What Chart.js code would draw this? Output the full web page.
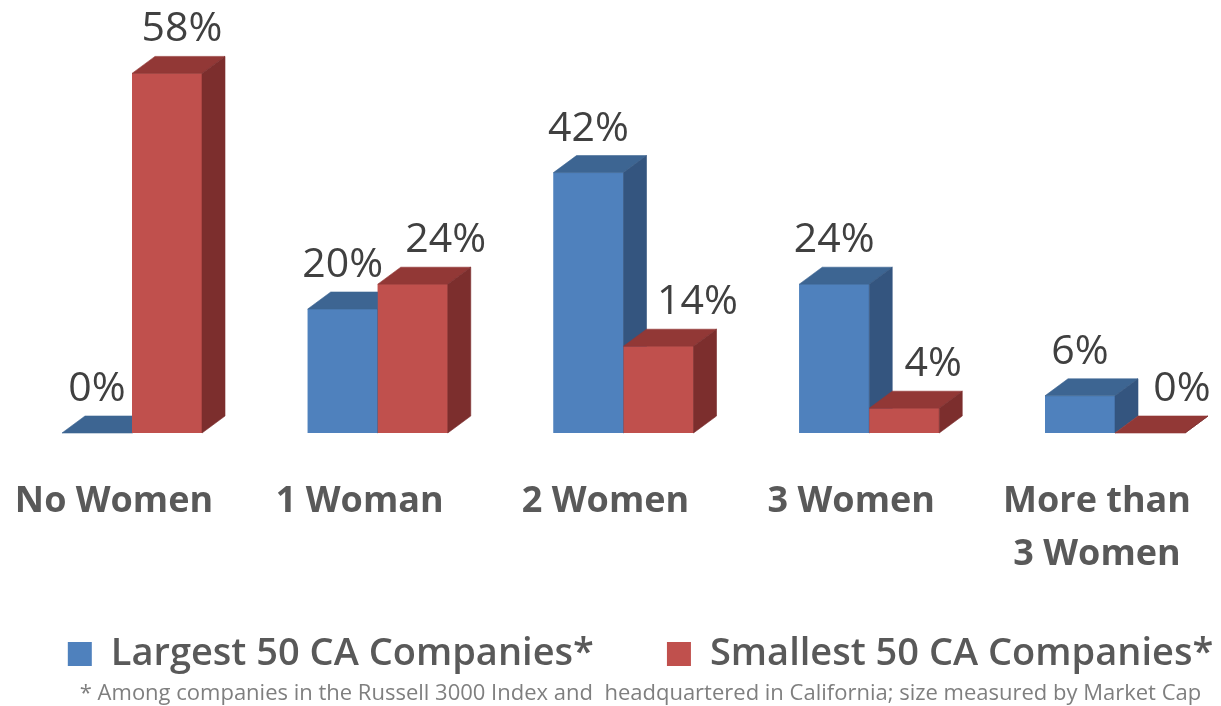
<!DOCTYPE html>
<html>
<head>
<meta charset="utf-8">
<script src="https://cdn.jsdelivr.net/npm/chart.js@4.4.0/dist/chart.umd.min.js"></script>
<style>
  html, body { margin: 0; padding: 0; background: #fff; }
  #wrap { width: 1221px; height: 706px; }
</style>
</head>
<body>
<div id="wrap"><canvas id="chart"></canvas></div>
<script>
const categories = ['No Women', '1 Woman', '2 Women', '3 Women', ['More than', '3 Women']];
const largest50 = [0, 20, 42, 24, 6];
const smallest50 = [58, 24, 14, 4, 0];
const seriesNames = ['Largest 50 CA Companies*', 'Smallest 50 CA Companies*'];
const footnote = '* Among companies in the Russell 3000 Index and  headquartered in California; size measured by Market Cap';

// fake 3D: top + side faces drawn off the bar elements, category by category
const bars3d = {
  id: 'bars3d',
  afterDatasetsDraw(chart, args, opts) {
    const ctx = chart.ctx;
    const metas = chart.data.datasets.map((d, i) => chart.getDatasetMeta(i));
    const face = (pts, color) => {
      ctx.fillStyle = color;
      ctx.strokeStyle = color;
      ctx.lineWidth = 0.6;
      ctx.beginPath();
      ctx.moveTo(pts[0][0], pts[0][1]);
      pts.slice(1).forEach(p => ctx.lineTo(p[0], p[1]));
      ctx.closePath();
      ctx.fill();
      ctx.stroke();
    };
    ctx.save();
    for (let i = 0; i < chart.data.labels.length; i++) {
      metas.forEach((meta, di) => {
        const ds = chart.data.datasets[di];
        const el = meta.data[i];
        const {x, y, base, width} = el.getProps(['x', 'y', 'base', 'width'], true);
        const l = x - width / 2, r = x + width / 2, top = Math.min(y, base);
        el.draw(ctx);
        face([[l, top], [l + opts.dx, top - opts.dy], [r + opts.dx, top - opts.dy], [r, top]], ds.topColor);
        face([[r, top], [r + opts.dx, top - opts.dy], [r + opts.dx, base - opts.dy], [r, base]], ds.sideColor);
      });
    }
    ctx.font = opts.labelFont;
    ctx.fillStyle = opts.labelColor;
    ctx.textAlign = 'center';
    ctx.textBaseline = 'alphabetic';
    metas.forEach((meta, di) => {
      const vals = chart.data.datasets[di].data;
      meta.data.forEach((el, i) => {
        ctx.fillText(vals[i] + '%', el.x + opts.labelShift[di][i], el.y - opts.labelGap);
      });
    });
    ctx.restore();
  }
};

new Chart(document.getElementById('chart'), {
  type: 'bar',
  data: {
    labels: categories,
    datasets: [
      {
        label: seriesNames[0],
        data: largest50,
        backgroundColor: '#4f81bd',
        topColor: '#3d6592',
        sideColor: '#34557f',
        borderWidth: 0,
        barPercentage: 1,
        categoryPercentage: 0.5697,
        clip: false
      },
      {
        label: seriesNames[1],
        data: smallest50,
        backgroundColor: '#c0504d',
        topColor: '#923836',
        sideColor: '#7c2e2d',
        borderWidth: 0,
        barPercentage: 1,
        categoryPercentage: 0.5697,
        clip: false
      }
    ]
  },
  plugins: [bars3d],
  options: {
    responsive: true,
    maintainAspectRatio: false,
    animation: false,
    events: [],
    layout: { padding: { left: 60, right: 0, top: 61, bottom: 0 } },
    scales: {
      x: {
        offset: false,
        grid: { display: false, drawTicks: false },
        border: { display: false },
        ticks: {
          color: '#595959',
          font: { family: 'Open Sans', weight: 'bold', size: 36, lineHeight: 1.4722 },
          padding: 42,
          labelOffset: -18,
          maxRotation: 0,
          autoSkip: false
        },
        afterFit(s) {
          s.height = 198;
          s.paddingLeft = 0;
          s.paddingRight = 0;
        }
      },
      y: {
        min: 0,
        max: 60,
        grid: { display: false },
        border: { display: false },
        ticks: { display: false },
        afterFit(s) { s.width = 72; }
      },
      y2: {
        position: 'right',
        grid: { display: false },
        border: { display: false },
        ticks: { display: false },
        afterFit(s) { s.width = 106; }
      }
    },
    plugins: {
      bars3d: {
        dx: 23,
        dy: 17,
        labelFont: '500 41px "Open Sans"',
        labelColor: '#404040',
        labelGap: 32,
        labelShift: [[0, 0, 0, 0, 0], [15, 33, 39, 29, 32]]
      },
      legend: {
        position: 'bottom',
        labels: {
          color: '#595959',
          font: { family: 'Open Sans', weight: '600', size: 38 },
          boxWidth: 24,
          boxHeight: 24,
          padding: 4,
          generateLabels: (chart) => chart.data.datasets.map((ds, i) => ({
            text: i === 0 ? ds.label + '       ' : ds.label,
            fillStyle: ds.backgroundColor,
            strokeStyle: ds.backgroundColor,
            lineWidth: 0,
            fontColor: '#595959',
            hidden: false,
            datasetIndex: i
          }))
        }
      },
      title: {
        display: true,
        position: 'bottom',
        text: footnote,
        color: '#7f7f7f',
        font: { family: 'Open Sans', weight: 'normal', size: 22, lineHeight: 1.0 },
        padding: { top: 0, bottom: 1 }
      },
      tooltip: { enabled: false }
    }
  }
});
</script>
</body>
</html>
